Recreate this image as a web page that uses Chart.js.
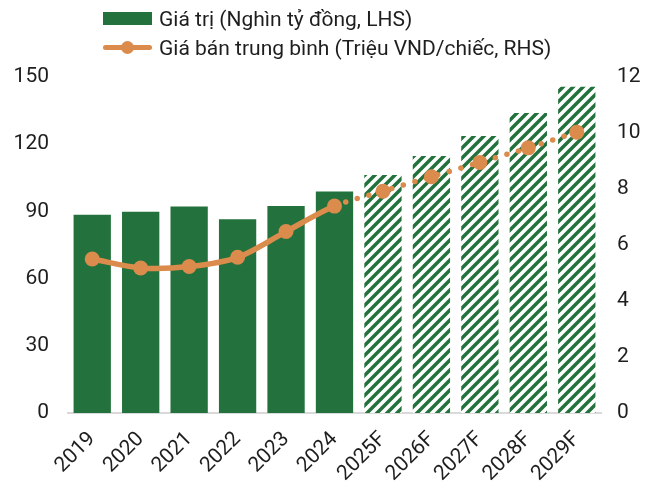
<!DOCTYPE html>
<html>
<head>
<meta charset="utf-8">
<script src="https://cdn.jsdelivr.net/npm/chart.js@4"></script>
<style>
  body { margin: 0; background: #fff; }
  #wrap { position: relative; width: 660px; height: 482px; }
  #legend { position: absolute; left: 103px; top: 4px; font-family: Roboto, sans-serif; font-size: 21px; color: #1e1e1e; }
  .item { display: flex; align-items: center; height: 29px; }
  .box { width: 49px; height: 13px; background: #23723D; margin-right: 7px; }
  .ln { position: relative; width: 49px; height: 5px; background: #DB8B4B; margin-right: 7px; border-radius: 3px; }
  .ln span { position: absolute; left: 18px; top: -4px; width: 13px; height: 13px; border-radius: 50%; background: #DB8B4B; }
</style>
</head>
<body>
<div id="wrap">
  <canvas id="chart" width="660" height="482"></canvas>
  <div id="legend">
    <div class="item"><div class="box"></div>Giá trị (Nghìn tỷ đồng, LHS)</div>
    <div class="item"><div class="ln"><span></span></div>Giá bán trung bình (Triệu VND/chiếc, RHS)</div>
  </div>
</div>
<script>
const years = ['2019', '2020', '2021', '2022', '2023', '2024', '2025F', '2026F', '2027F', '2028F', '2029F'];
const giaTri = [88.5, 89.8, 92.2, 86.5, 92.4, 98.9, 106.3, 114.7, 123.7, 133.9, 145.7];
const giaBan = [5.5, 5.18, 5.23, 5.56, 6.48, 7.39, 7.92, 8.44, 8.95, 9.47, 10.03];
const leftTicks = [0, 30, 60, 90, 120, 150];
const rightTicks = [0, 2, 4, 6, 8, 10, 12];
const firstForecast = 6;

const green = '#23723D';
const orange = '#DB8B4B';

// hatch pattern for forecast bars
const tile = document.createElement('canvas');
tile.width = 10;
tile.height = 10;
const tctx = tile.getContext('2d');
tctx.fillStyle = '#fff';
tctx.fillRect(0, 0, 10, 10);
tctx.strokeStyle = green;
tctx.lineWidth = 3.5;
tctx.beginPath();
tctx.moveTo(-5, 5); tctx.lineTo(5, -5);
tctx.moveTo(0, 10); tctx.lineTo(10, 0);
tctx.moveTo(5, 15); tctx.lineTo(15, 5);
tctx.stroke();
const hatch = tctx.createPattern(tile, 'repeat');

const tickFont = { family: 'Roboto', size: 21 };

new Chart(document.getElementById('chart'), {
  type: 'bar',
  data: {
    labels: years,
    datasets: [
      {
        type: 'line',
        label: 'Giá bán trung bình (Triệu VND/chiếc, RHS)',
        data: giaBan,
        yAxisID: 'y1',
        order: 0,
        borderColor: orange,
        backgroundColor: orange,
        borderWidth: 5.5,
        borderCapStyle: 'round',
        tension: 0.3,
        pointRadius: 7.5,
        pointBorderWidth: 0,
        pointBackgroundColor: orange,
        segment: {
          // forecast part drawn as round dots
          borderDash: ctx => ctx.p1DataIndex >= firstForecast ? [0, 12] : undefined
        }
      },
      {
        label: 'Giá trị (Nghìn tỷ đồng, LHS)',
        data: giaTri,
        yAxisID: 'y',
        order: 1,
        backgroundColor: years.map((y, i) => i < firstForecast ? green : hatch),
        borderWidth: 0,
        categoryPercentage: 1,
        barPercentage: 0.77
      }
    ]
  },
  options: {
    responsive: false,
    animation: false,
    layout: { padding: { top: 77, left: 0, right: 0, bottom: 0 } },
    plugins: {
      legend: { display: false },
      tooltip: { enabled: false }
    },
    scales: {
      x: {
        grid: { display: false },
        border: { display: true, color: '#d9d9d9', width: 2 },
        ticks: { font: tickFont, color: '#1e1e1e', minRotation: 45, maxRotation: 45, autoSkip: false, padding: 6 },
        afterFit: s => { s.height = 69; }
      },
      y: {
        position: 'left',
        min: 0,
        max: 150,
        grid: { display: false },
        border: { display: false },
        afterBuildTicks: s => { s.ticks = leftTicks.map(v => ({ value: v })); },
        ticks: { font: tickFont, color: '#1e1e1e', padding: 11 },
        afterFit: s => { s.width = 68; }
      },
      y1: {
        position: 'right',
        min: 0,
        max: 12,
        grid: { display: false },
        border: { display: false },
        afterBuildTicks: s => { s.ticks = rightTicks.map(v => ({ value: v })); },
        ticks: { font: tickFont, color: '#1e1e1e', padding: 8 },
        afterFit: s => { s.width = 59; }
      }
    }
  }
});
</script>
</body>
</html>
